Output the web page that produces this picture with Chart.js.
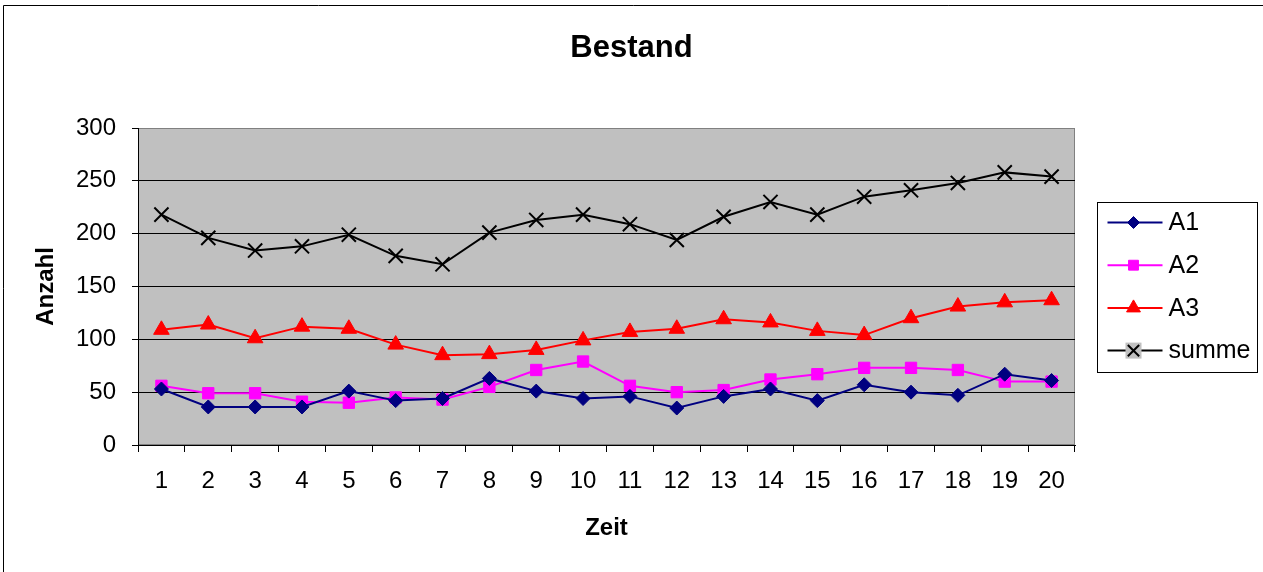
<!DOCTYPE html>
<html>
<head>
<meta charset="utf-8">
<script src="https://cdn.jsdelivr.net/npm/chart.js@4/dist/chart.umd.min.js"></script>
<style>
  html, body { margin: 0; padding: 0; background: #fff; }
  #wrap { width: 1263px; height: 572px; position: relative; }
</style>
</head>
<body>
<div id="wrap"><canvas id="chart" width="1263" height="572"></canvas></div>
<script>
// Data
const zeit = ["1", "2", "3", "4", "5", "6", "7", "8", "9", "10", "11", "12", "13", "14", "15", "16", "17", "18", "19", "20"];
const a1 = [53, 36, 36, 36, 51, 42, 44, 63, 51, 44, 46, 35, 46, 53, 42, 57, 50, 47, 67, 61];
const a2 = [56, 49, 49, 41, 40, 45, 43, 55, 71, 79, 56, 50, 52, 62, 67, 73, 73, 71, 60, 60];
const a3 = [109, 114, 101, 112, 110, 95, 85, 86, 90, 99, 107, 110, 119, 116, 108, 104, 120, 131, 135, 137];
const summe = [218, 196, 184, 188, 199, 179, 171, 201, 213, 218, 209, 194, 216, 230, 218, 235, 241, 248, 258, 254];
const yTicks = [0, 50, 100, 150, 200, 250, 300];

document.addEventListener("DOMContentLoaded", function () {
  const font = "'Liberation Sans', Arial, sans-serif";

  // plot background, outer frame and boxed legend
  const excelLook = {
    id: "excelLook",
    beforeDraw(chart) {
      const { ctx, chartArea: a } = chart;
      ctx.save();
      ctx.fillStyle = "#fff";
      ctx.fillRect(0, 0, chart.width, chart.height);
      ctx.strokeStyle = "#000";
      ctx.lineWidth = 1;
      ctx.beginPath();
      ctx.moveTo(3.5, chart.height);
      ctx.lineTo(3.5, 5.5);
      ctx.lineTo(chart.width, 5.5);
      ctx.stroke();
      ctx.fillStyle = "#c0c0c0";
      ctx.fillRect(a.left, a.top, a.right - a.left, a.bottom - a.top);
      ctx.strokeStyle = "#808080";
      ctx.strokeRect(a.left + 0.5, a.top + 0.5, a.right - a.left - 1, a.bottom - a.top - 1);
      ctx.restore();
    },
    afterDraw(chart) {
      const { ctx, chartArea: a } = chart;
      const bx = a.right + 22.5;
      const bh = 170;
      const by = Math.round((a.top + a.bottom) / 2 - bh / 2) + 0.5;
      ctx.save();
      ctx.strokeStyle = "#000";
      ctx.lineWidth = 1;
      ctx.strokeRect(bx, by, 160, bh);
      ctx.font = "25px " + font;
      ctx.textBaseline = "middle";
      chart.data.datasets.forEach((ds, i) => {
        const y = by + 20 + i * 42.7;
        ctx.strokeStyle = ds.borderColor;
        ctx.lineWidth = ds.borderWidth;
        ctx.beginPath();
        ctx.moveTo(bx + 10, y);
        ctx.lineTo(bx + 65, y);
        ctx.stroke();
        if (ds.pointStyle === "crossRot") {
          ctx.fillStyle = "#c0c0c0";
          ctx.fillRect(bx + 28, y - 8, 16, 16);
        }
        ctx.fillStyle = ds.pointBackgroundColor;
        ctx.strokeStyle = ds.pointBorderColor;
        ctx.lineWidth = ds.pointBorderWidth;
        Chart.helpers.drawPoint(ctx, {
          pointStyle: ds.pointStyle,
          radius: ds.pointStyle === "crossRot" ? 8 : ds.pointRadius - 1,
          rotation: 0,
          borderWidth: ds.pointBorderWidth,
        }, bx + 36, y);
        ctx.fillStyle = "#000";
        ctx.fillText(ds.label, bx + 71, y + 1);
      });
      ctx.restore();
    },
  };

  const line = (label, data, color, style, radius) => ({
    label: label,
    data: data,
    borderColor: color,
    borderWidth: 2,
    pointStyle: style,
    pointRadius: radius,
    pointBackgroundColor: color,
    pointBorderColor: color,
    pointBorderWidth: style === "crossRot" ? 2 : 1,
    tension: 0,
    fill: false,
  });

  new Chart(document.getElementById("chart").getContext("2d"), {
    type: "line",
    data: {
      labels: zeit,
      datasets: [
        line("A1", a1, "#000080", "rectRot", 7),
        line("A2", a2, "#ff00ff", "rect", 8),
        line("A3", a3, "#ff0000", "triangle", 9),
        line("summe", summe, "#000000", "crossRot", 10),
      ],
    },
    options: {
      responsive: false,
      animation: false,
      layout: { padding: 0 },
      plugins: {
        legend: { display: false },
        tooltip: { enabled: false },
        title: {
          display: true,
          text: "Bestand",
          color: "#000",
          font: { family: font, size: 31, weight: "bold", lineHeight: 1.2 },
          padding: { top: 30, bottom: 60.8 },
        },
      },
      scales: {
        x: {
          offset: true,
          grid: {
            offset: true,
            drawOnChartArea: false,
            drawTicks: true,
            tickLength: 7,
            color: "#000",
          },
          border: { display: true, color: "#000" },
          ticks: {
            color: "#000",
            font: { family: font, size: 24 },
            padding: 15,
            maxRotation: 0,
            autoSkip: false,
          },
          title: {
            display: true,
            text: "Zeit",
            color: "#000",
            font: { family: font, size: 24, weight: "bold", lineHeight: 1.2 },
            padding: { top: 0, bottom: 29 },
          },
          afterFit: (s) => { s.height = 127; },
        },
        y: {
          min: 0,
          max: 300,
          afterBuildTicks: (s) => { s.ticks = yTicks.map((v) => ({ value: v })); },
          grid: {
            color: (c) => (c.tick && c.tick.value === 300 ? "#808080" : "#000"),
            tickColor: "#000",
            tickLength: 6,
          },
          border: { display: true, color: "#000" },
          ticks: {
            color: "#000",
            font: { family: font, size: 24 },
            padding: 16,
          },
          title: {
            display: true,
            text: "Anzahl",
            color: "#000",
            font: { family: font, size: 24, weight: "bold", lineHeight: 1.2 },
            padding: { top: 32, bottom: 0 },
          },
          afterFit: (s) => { s.width = 138; },
        },
        // keeps room on the right for the boxed legend
        legendSpace: {
          position: "right",
          display: true,
          grid: { display: false },
          border: { display: false },
          ticks: { display: false },
          afterFit: (s) => { s.width = 188; },
        },
      },
    },
    plugins: [excelLook],
  });
});
</script>
</body>
</html>
